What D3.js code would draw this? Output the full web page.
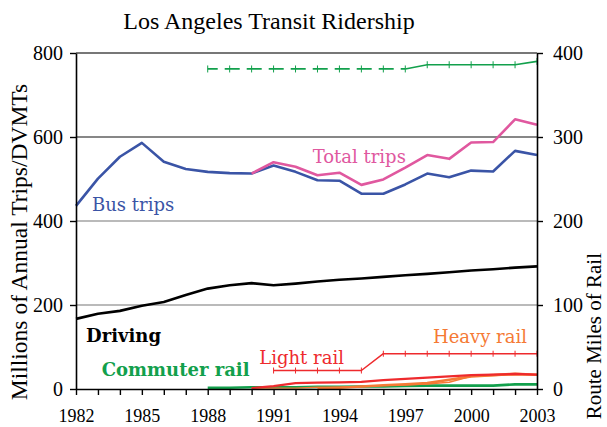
<!DOCTYPE html>
<html>
<head>
<meta charset="utf-8">
<script src="https://cdn.jsdelivr.net/npm/d3@7"></script>
<style>
  body { margin: 0; background: #fff; }
  svg { display: block; }
</style>
</head>
<body>
<div id="chart"></div>
<script>
const years = [1982, 1983, 1984, 1985, 1986, 1987, 1988, 1989, 1990, 1991, 1992,
    1993, 1994, 1995, 1996, 1997, 1998, 1999, 2000, 2001, 2002, 2003]

// millions of annual trips / DVMTs (left axis)
const busTrips = [436, 501, 553, 586, 541, 524, 517, 514, 513, 532, 517,
    497, 496, 465, 465, 487, 513, 504, 520, 518, 567, 557]
const totalTrips = [null, null, null, null, null, null, null, null, 513, 540, 529,
    509, 515, 486, 499, 527, 557, 548, 587, 588, 642, 629]
const driving = [167, 179, 186, 198, 207, 224, 239, 247, 252, 247, 251,
    256, 260, 263, 267, 271, 274, 278, 282, 285, 289, 292]
const commuterTrips = [null, null, null, null, null, null, 3, 3, 4, 4, 4,
    5, 5, 6, 6, 7, 8, 8, 8, 8, 11, 11]
const lightTrips = [null, null, null, null, null, null, null, null, 2, 7, 14,
    15, 16, 17, 21, 24, 27, 30, 33, 34, 36, 34]
const heavyTrips = [null, null, null, null, null, null, null, null, null, null, null,
    1, 3, 6, 9, 11, 14, 22, 30, 33, 36, 34]

// route miles of rail (right axis)
const commuterMiles = [null, null, null, null, null, null, 381, 381, 381, 381, 381,
    381, 381, 381, 381, 381, 386, 386, 386, 386, 386, 390]
const lightMiles = [null, null, null, null, null, null, null, null, null, 22, 22,
    22, 22, 22, 42, 42, 42, 42, 42, 42, 42, 42]
const heavyMiles = [null, null, null, null, null, null, null, null, 1, 1, 1,
    2, 2, 3, 4, 5, 6, 8, 15, 16, 17, 17]

const leftTicks = [0, 200, 400, 600, 800]
const rightTicks = [0, 100, 200, 300, 400]
const yearLabels = [1982, 1985, 1988, 1991, 1994, 1997, 2000, 2003]

const width = 607
const height = 427
const margin = {top: 53, right: 70, bottom: 38, left: 76}

const blue = '#3a54a6'
const pink = '#e0589f'
const green = '#12a04c'
const red = '#ee2a2d'
const orange = '#f57a35'
const serif = 'Liberation Serif, serif'

const svg = d3.select('#chart').append('svg')
    .attr('width', width)
    .attr('height', height)

const x = d3.scaleLinear()
    .domain([1982, 2003])
    .range([margin.left, width - margin.right])
const yL = d3.scaleLinear()
    .domain([0, 800])
    .range([height - margin.bottom, margin.top])
const yR = d3.scaleLinear()
    .domain([0, 400])
    .range([height - margin.bottom, margin.top])

const pts = arr => years.map((yr, i) => ({year: yr, v: arr[i]}))

// gridlines
svg.append('g').attr('class', 'grid')
    .selectAll('line')
    .data(leftTicks.filter(d => d > 0))
    .join('line')
    .attr('x1', x(1982))
    .attr('x2', x(2003))
    .attr('y1', d => yL(d))
    .attr('y2', d => yL(d))
    .attr('stroke', d => d === 600 ? '#111' : '#777')
    .attr('stroke-width', d => d === 800 ? 1.8 : 1.2)

// series
const series = [
    {data: commuterTrips, scale: yL, color: green, w: 2.6},
    {data: heavyMiles, scale: yR, color: orange, w: 1.4},
    {data: heavyTrips, scale: yL, color: orange, w: 2.6},
    {data: lightTrips, scale: yL, color: red, w: 2.2},
    {data: lightMiles, scale: yR, color: red, w: 1.5, marks: 3},
    {data: driving, scale: yL, color: '#000', w: 2.6},
    {data: busTrips, scale: yL, color: blue, w: 2.6},
    {data: totalTrips, scale: yL, color: pink, w: 2.6},
]

const lines = svg.append('g').attr('class', 'lines')
series.forEach(s => {
    const line = d3.line()
        .defined(d => d.v != null)
        .x(d => x(d.year))
        .y(d => s.scale(d.v))
    lines.append('path')
        .datum(pts(s.data))
        .attr('fill', 'none')
        .attr('stroke', s.color)
        .attr('stroke-width', s.w)
        .attr('stroke-linejoin', 'round')
        .attr('d', line)
    if (s.marks) {
        lines.append('g')
            .selectAll('line')
            .data(pts(s.data).filter(d => d.v != null))
            .join('line')
            .attr('x1', d => x(d.year))
            .attr('x2', d => x(d.year))
            .attr('y1', d => s.scale(d.v) - s.marks)
            .attr('y2', d => s.scale(d.v) + s.marks)
            .attr('stroke', s.color)
            .attr('stroke-width', 1)
    }
})

// commuter rail route miles: dashed until 1997, then solid
const cm = pts(commuterMiles).filter(d => d.v != null)
const cmLine = d3.line().x(d => x(d.year)).y(d => yR(d.v))
lines.append('path')
    .datum(cm.filter(d => d.year <= 1997))
    .attr('fill', 'none')
    .attr('stroke', green)
    .attr('stroke-width', 1.8)
    .attr('stroke-dasharray', '15,7')
    .attr('stroke-dashoffset', 5)
    .attr('d', cmLine)
lines.append('path')
    .datum(cm.filter(d => d.year >= 1997))
    .attr('fill', 'none')
    .attr('stroke', green)
    .attr('stroke-width', 1.6)
    .attr('d', cmLine)
lines.append('g')
    .selectAll('line')
    .data(cm)
    .join('line')
    .attr('x1', d => x(d.year))
    .attr('x2', d => x(d.year))
    .attr('y1', d => yR(d.v) - 3.5)
    .attr('y2', d => yR(d.v) + 3.5)
    .attr('stroke', green)
    .attr('stroke-width', 1)

// axes
const axisStyle = (g, size) => {
    g.select('.domain').attr('stroke', '#000').attr('stroke-width', 1.6)
    g.selectAll('.tick line').attr('stroke', '#000').attr('stroke-width', 1.4)
    g.selectAll('.tick text')
        .attr('fill', '#000')
        .attr('font-family', serif)
        .attr('font-size', size)
}

svg.append('g')
    .attr('transform', `translate(${margin.left},0)`)
    .call(d3.axisLeft(yL).tickValues(leftTicks).tickSize(6).tickPadding(7).tickSizeOuter(0))
    .call(axisStyle, 20)

svg.append('g')
    .attr('transform', `translate(${x(2003)},0)`)
    .call(d3.axisRight(yR).tickValues(rightTicks).tickSize(6).tickPadding(10).tickSizeOuter(0))
    .call(axisStyle, 20)

svg.append('g')
    .attr('transform', `translate(0,${yL(0)})`)
    .call(d3.axisBottom(x).tickValues(years).tickSize(6).tickPadding(14).tickSizeOuter(0)
        .tickFormat(d => yearLabels.includes(d) ? d : ''))
    .call(axisStyle, 18)

// title and axis labels
svg.append('text')
    .attr('x', 269)
    .attr('y', 29)
    .attr('text-anchor', 'middle')
    .attr('font-family', serif)
    .attr('font-size', 24)
    .text('Los Angeles Transit Ridership')

svg.append('text')
    .attr('transform', `translate(27,242) rotate(-90)`)
    .attr('text-anchor', 'middle')
    .attr('font-family', serif)
    .attr('font-size', 23.5)
    .text('Millions of Annual Trips/DVMTs')

svg.append('text')
    .attr('transform', `translate(601,253) rotate(-90)`)
    .attr('text-anchor', 'end')
    .attr('font-family', serif)
    .attr('font-size', 21)
    .text('Route Miles of Rail')

// series labels
const labels = [
    {text: 'Bus trips', year: 1982.73, v: 424, color: blue},
    {text: 'Total trips', year: 1992.78, v: 539, color: pink},
    {text: 'Driving', year: 1982.46, v: 112, color: '#000', bold: true},
    {text: 'Commuter rail', year: 1983.17, v: 31, color: green, bold: true},
    {text: 'Light rail', year: 1990.35, v: 59.5, color: red},
    {text: 'Heavy rail', year: 1998.26, v: 110, color: orange},
]
svg.append('g').attr('class', 'labels')
    .selectAll('text')
    .data(labels)
    .join('text')
    .attr('x', d => x(d.year))
    .attr('y', d => yL(d.v))
    .attr('fill', d => d.color)
    .attr('font-family', 'DejaVu Serif, serif')
    .attr('font-size', 18)
    .attr('font-weight', d => d.bold ? 'bold' : 'normal')
    .text(d => d.text)
</script>
</body>
</html>
